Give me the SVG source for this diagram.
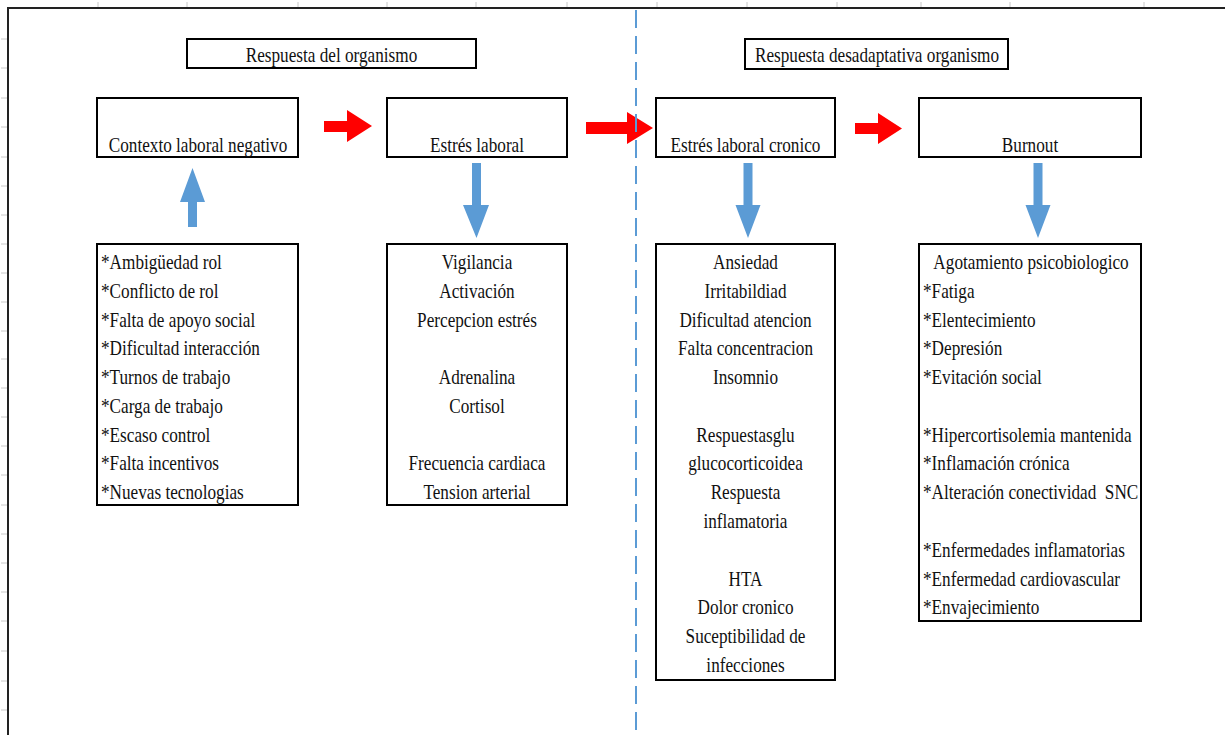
<svg xmlns="http://www.w3.org/2000/svg" width="1225" height="735" viewBox="0 0 1225 735">
  <style>
    .box { fill: #fff; stroke: #000; stroke-width: 2; }
    .t { font-family: "Liberation Serif", "Times New Roman", serif; font-size: 20px; fill: #111; }
    .c { text-anchor: middle; }
    .pre { white-space: pre; }
    .tick { stroke: #c8c8c8; stroke-width: 1; }
    .red { fill: #ff0000; }
    .blue { fill: #5b9bd5; }
  </style>
  <defs>
    <!-- column / row gridline stubs of the sheet -->
    <path id="colTicks" class="tick" d="M98 2V7M187 2V7M298 2V7M387 2V7M476 2V7M567 2V7M657 2V7M747 2V7M837 2V7M921 2V7M1010 2V7M1144 2V7"/>
    <path id="rowTicks" class="tick" d="M1 39H7M1 68H7M1 98H7M1 127H7M1 157H7M1 186H7M1 215H7M1 244H7M1 273H7M1 302H7M1 331H7M1 359H7M1 388H7M1 417H7M1 446H7M1 475H7M1 505H7M1 534H7M1 563H7M1 592H7M1 621H7M1 651H7M1 681H7M1 710H7"/>
  </defs>

  <rect width="1225" height="735" fill="#fff"/>
  <use href="#colTicks"/>
  <use href="#rowTicks"/>
  <!-- frame -->
  <path d="M8 735V8H1225" fill="none" stroke="#222" stroke-width="2"/>

  <!-- section headers -->
  <g id="header-adaptive">
    <rect class="box" x="187" y="39" width="289" height="29"/>
    <text class="t c" transform="translate(331.5 62) scale(.86 1)">Respuesta del organismo</text>
  </g>
  <g id="header-maladaptive">
    <rect class="box" x="745" y="39" width="263" height="30"/>
    <text class="t c" transform="translate(877 62) scale(.86 1)">Respuesta desadaptativa organismo</text>
  </g>

  <!-- stage nodes -->
  <g id="node-contexto">
    <rect class="box" x="97" y="98" width="201" height="59"/>
    <text class="t c" transform="translate(198 152) scale(.86 1)">Contexto laboral negativo</text>
  </g>
  <g id="node-estres">
    <rect class="box" x="387" y="98" width="180" height="59"/>
    <text class="t c" transform="translate(477 152) scale(.86 1)">Estrés laboral</text>
  </g>
  <g id="node-cronico">
    <rect class="box" x="656" y="98" width="179" height="59"/>
    <text class="t c" transform="translate(745.5 152) scale(.86 1)">Estrés laboral cronico</text>
  </g>
  <g id="node-burnout">
    <rect class="box" x="919" y="98" width="222" height="59"/>
    <text class="t c" transform="translate(1030 152) scale(.86 1)">Burnout</text>
  </g>

  <!-- detail lists -->
  <g id="list-factores">
    <rect class="box" x="97" y="244" width="201" height="261"/>
    <g class="t" transform="translate(101 0) scale(.86 1)">
      <text y="269">*Ambigüedad rol</text>
      <text y="298">*Conflicto de rol</text>
      <text y="327">*Falta de apoyo social</text>
      <text y="355">*Dificultad interacción</text>
      <text y="384">*Turnos de trabajo</text>
      <text y="413">*Carga de trabajo</text>
      <text y="442">*Escaso control</text>
      <text y="470">*Falta incentivos</text>
      <text y="499">*Nuevas tecnologias</text>
    </g>
  </g>
  <g id="list-estres">
    <rect class="box" x="387" y="244" width="180" height="261"/>
    <g class="t c" transform="translate(477 0) scale(.86 1)">
      <text y="269">Vigilancia</text>
      <text y="298">Activación</text>
      <text y="327">Percepcion estrés</text>
      <text y="384">Adrenalina</text>
      <text y="413">Cortisol</text>
      <text y="470">Frecuencia cardiaca</text>
      <text y="499">Tension arterial</text>
    </g>
  </g>
  <g id="list-cronico">
    <rect class="box" x="656" y="244" width="179" height="436"/>
    <g class="t c" transform="translate(745.5 0) scale(.86 1)">
      <text y="269">Ansiedad</text>
      <text y="298">Irritabildiad</text>
      <text y="327">Dificultad atencion</text>
      <text y="355">Falta concentracion</text>
      <text y="384">Insomnio</text>
      <text y="442">Respuestasglu</text>
      <text y="470">glucocorticoidea</text>
      <text y="499">Respuesta</text>
      <text y="528">inflamatoria</text>
      <text y="586">HTA</text>
      <text y="614">Dolor cronico</text>
      <text y="643">Suceptibilidad de</text>
      <text y="672">infecciones</text>
    </g>
  </g>
  <g id="list-burnout">
    <rect class="box" x="919" y="244" width="222" height="377"/>
    <text class="t c" transform="translate(1031 269) scale(.86 1)">Agotamiento psicobiologico</text>
    <g class="t" transform="translate(923 0) scale(.86 1)">
      <text y="298">*Fatiga</text>
      <text y="327">*Elentecimiento</text>
      <text y="355">*Depresión</text>
      <text y="384">*Evitación social</text>
      <text y="442">*Hipercortisolemia mantenida</text>
      <text y="470">*Inflamación crónica</text>
      <text class="pre" y="499">*Alteración conectividad  SNC</text>
      <text y="557">*Enfermedades inflamatorias</text>
      <text y="586">*Enfermedad cardiovascular</text>
      <text y="614">*Envajecimiento</text>
    </g>
  </g>

  <!-- connectors: block arrows -->
  <g id="connectors">
    <path class="red" d="M324 121H347V110L372 126L347 142V132H324Z"/>
    <path class="red" d="M586 122H627V112L653 128L627 144V134H586Z"/>
    <path class="red" d="M855 123H878V113L902 128.5L878 144V134H855Z"/>
    <path class="blue" d="M188 227V202H180L192.5 168L205 202H197V227Z"/>
    <path class="blue" d="M472 163H481V205H489L476.5 238L463 205H472Z"/>
    <path class="blue" d="M743.5 163H752.5V205H760.5L748 238L735.5 205H743.5Z"/>
    <path class="blue" d="M1033.5 163H1042.5V205H1050.5L1038 238L1025.5 205H1033.5Z"/>
  </g>

  <!-- divider between adaptive and maladaptive stages -->
  <line x1="636" y1="10" x2="636" y2="735" stroke="#5b9bd5" stroke-width="2" stroke-dasharray="18 8"/>
</svg>
